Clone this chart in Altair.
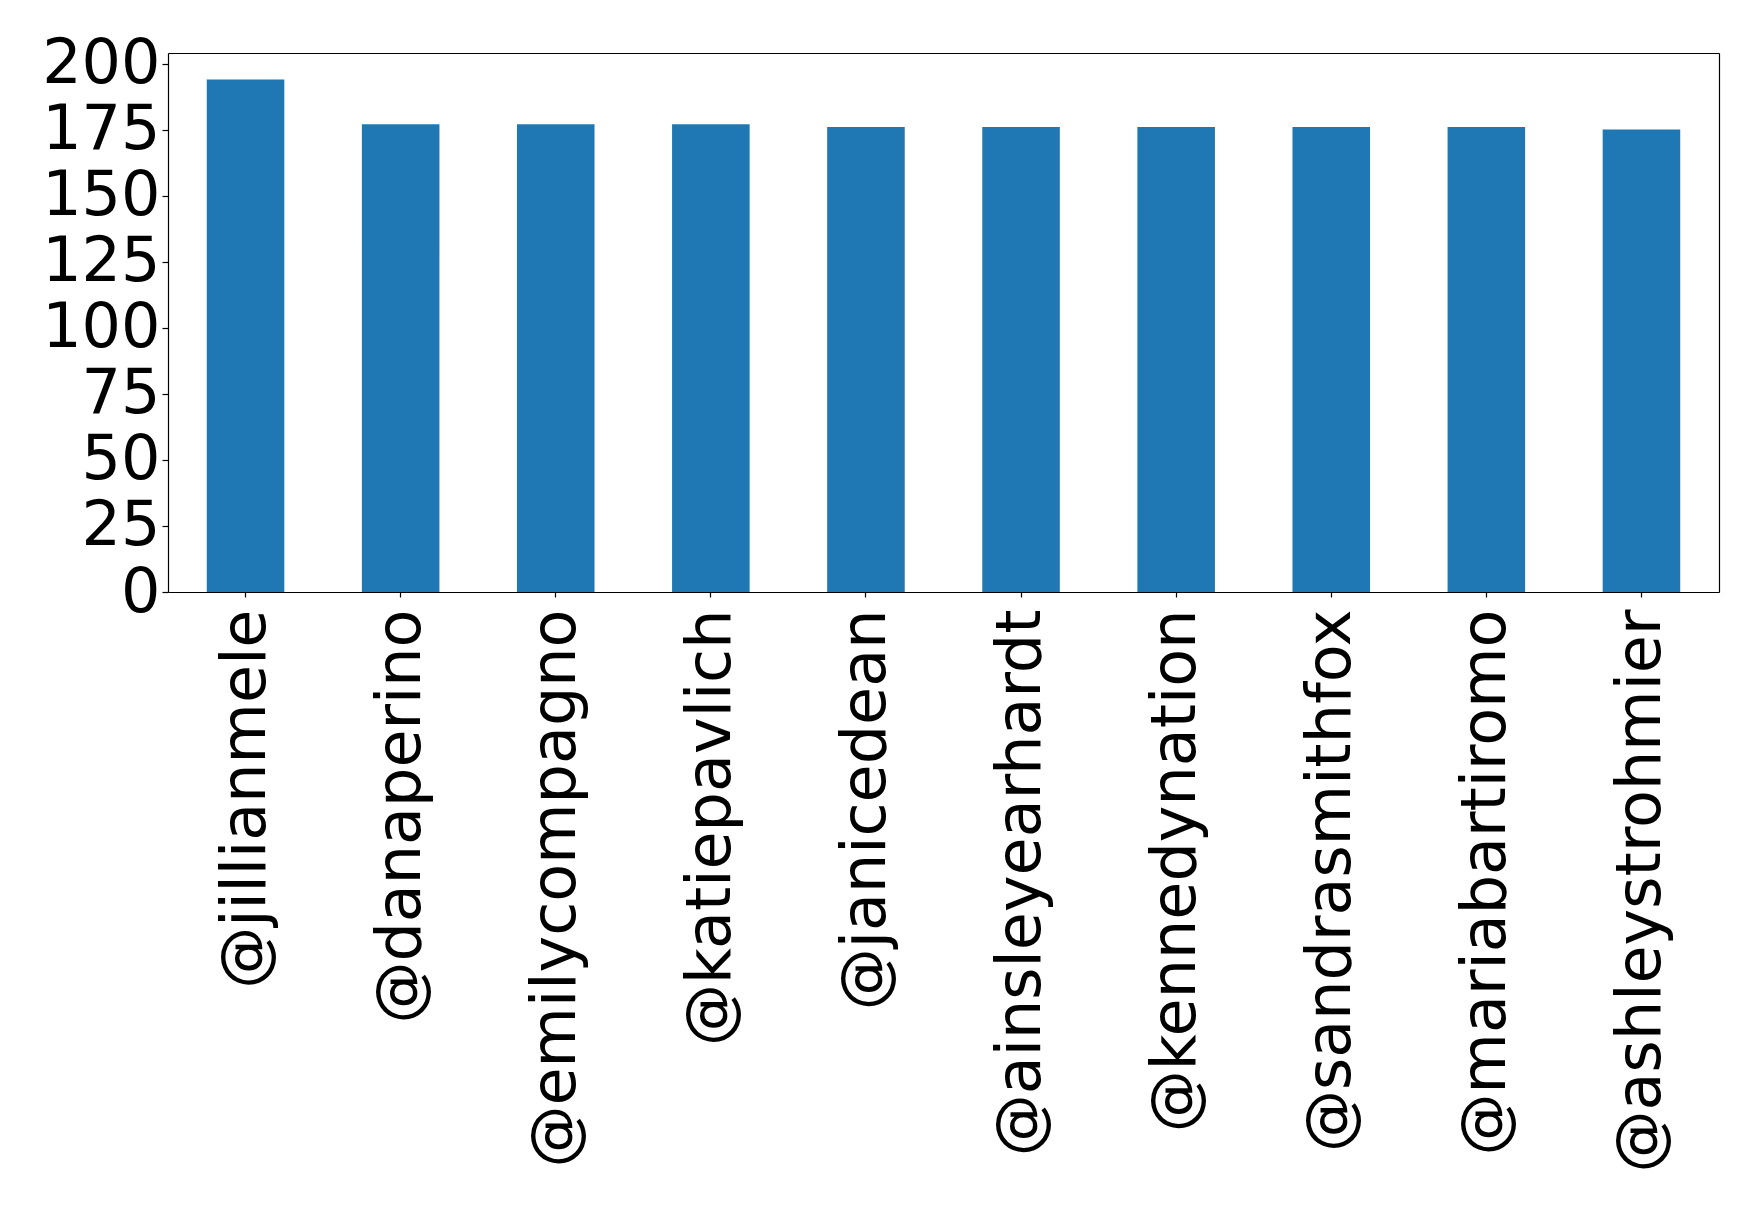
import altair as alt
import pandas as pd

users = ["@jillianmele", "@danaperino", "@emilycompagno", "@katiepavlich", "@janicedean",
         "@ainsleyearhardt", "@kennedynation", "@sandrasmithfox", "@mariabartiromo", "@ashleystrohmier"]
counts = [194, 177, 177, 177, 176, 176, 176, 176, 176, 175]
y_ticks = [0, 25, 50, 75, 100, 125, 150, 175, 200]

df = pd.DataFrame({"user": users, "count": counts})

FONT = "DejaVu Sans"
FS = 62

xscale = alt.Scale(paddingInner=0.5, paddingOuter=0.25)
yscale = alt.Scale(domain=[0, 204], nice=False, zero=True)

bars = alt.Chart(df).mark_bar(color="#1f77b4").encode(
    x=alt.X("user:N", sort=users, title=None, scale=xscale,
            axis=alt.Axis(labelAngle=270, labelFontSize=FS, labelFont=FONT, labelColor="black",
                          labelPadding=12, tickSize=5, tickColor="black", tickWidth=1.2,
                          domainColor="black", domainWidth=1.2, labelLimit=1000, grid=False)),
    y=alt.Y("count:Q", title=None, scale=yscale,
            axis=alt.Axis(values=y_ticks, labelFontSize=FS, labelFont=FONT, labelColor="black",
                          labelPadding=2, tickSize=6, tickColor="black", tickWidth=1.2,
                          domainColor="black", domainWidth=1.2, grid=False, labelFlush=False)),
)

frame = alt.Chart(df).mark_bar(opacity=0).encode(
    x=alt.X("user:N", sort=users, title=None, scale=xscale,
            axis=alt.Axis(orient="top", labels=False, ticks=False, grid=False,
                          domainColor="black", domainWidth=1.2)),
    y=alt.Y("count:Q", title=None, scale=yscale,
            axis=alt.Axis(orient="right", labels=False, ticks=False, grid=False,
                          domainColor="black", domainWidth=1.2)),
)

chart = alt.layer(bars, frame).resolve_axis(x="independent", y="independent").properties(
    width=1551, height=539,
    autosize=alt.AutoSizeParams(type="none"),
    padding={"left": 160, "top": 45, "right": 30, "bottom": 610},
).configure_view(stroke=None).configure(background="white")

chart.save("out.html", embed_options={"renderer": "svg", "actions": False})
